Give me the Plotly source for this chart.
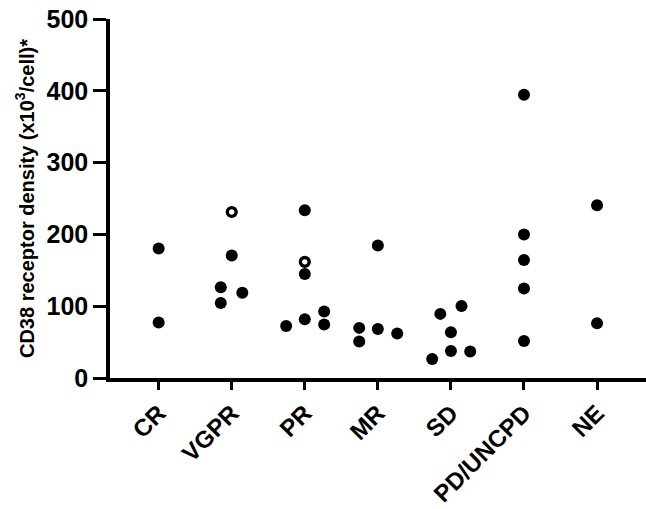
import plotly.graph_objects as go

categories = ["CR", "VGPR", "PR", "MR", "SD", "PD/UNCPD", "NE"]
y_ticks = [0, 100, 200, 300, 400, 500]

# filled points: category, value, horizontal jitter (category units)
filled_cat = ["CR", "CR",
              "VGPR", "VGPR", "VGPR", "VGPR",
              "PR", "PR", "PR", "PR", "PR", "PR",
              "MR", "MR", "MR", "MR", "MR",
              "SD", "SD", "SD", "SD", "SD", "SD",
              "PD/UNCPD", "PD/UNCPD", "PD/UNCPD", "PD/UNCPD", "PD/UNCPD",
              "NE", "NE"]
filled_val = [180.5, 77.3,
              170.7, 126.5, 104.6, 118.6,
              233.5, 144.7, 72.5, 81.9, 92.6, 74.5,
              184.7, 69.8, 50.8, 68.4, 61.9,
              100.4, 89.3, 63.8, 37.7, 36.8, 26.5,
              394.4, 200.0, 164.2, 124.7, 51.6,
              240.5, 76.3]
filled_jit = [0, 0,
              0, -0.15, -0.15, 0.145,
              0, 0, -0.255, 0, 0.265, 0.265,
              0, -0.255, -0.255, 0, 0.265,
              0.145, -0.145, 0, 0, 0.264, -0.256,
              0, 0, 0, 0, 0,
              0, 0]

# open points
open_cat = ["VGPR", "PR"]
open_val = [231.2, 161.8]
open_jit = [0, 0]

idx = {c: i for i, c in enumerate(categories)}
fx = [idx[c] + j for c, j in zip(filled_cat, filled_jit)]
ox = [idx[c] + j for c, j in zip(open_cat, open_jit)]

FONT = "Liberation Sans, Arial, sans-serif"

fig = go.Figure()
fig.add_trace(go.Scatter(
    x=fx, y=filled_val, mode="markers",
    marker=dict(size=12, color="black", line=dict(width=0)),
    cliponaxis=False, showlegend=False))
fig.add_trace(go.Scatter(
    x=ox, y=open_val, mode="markers",
    marker=dict(size=8.8, color="white", line=dict(width=3.4, color="black")),
    cliponaxis=False, showlegend=False))

fig.update_layout(
    width=646, height=509,
    margin=dict(l=110, r=0, t=19, b=131),
    paper_bgcolor="white", plot_bgcolor="white",
    font=dict(family=FONT, color="black"),
    xaxis=dict(
        range=[-0.666, 6.67], automargin=False,
        tickmode="array", tickvals=list(range(len(categories))), ticktext=categories,
        tickangle=-45,
        tickfont=dict(size=24, weight="bold", family=FONT),
        ticks="outside", ticklen=8, tickwidth=3, tickcolor="black",
        showline=True, linewidth=3.5, linecolor="black",
        showgrid=False, zeroline=False,
    ),
    yaxis=dict(
        range=[0, 500], automargin=False,
        tickmode="array", tickvals=y_ticks,
        tickfont=dict(size=25, weight="bold", family=FONT),
        ticks="outside", ticklen=13, tickwidth=3, tickcolor="black",
        showline=True, linewidth=3.5, linecolor="black",
        showgrid=False, zeroline=False,
        title=dict(text="CD38 receptor density (x10<sup>3</sup>/cell)*",
                   font=dict(size=20, weight="bold", family=FONT), standoff=8),
    ),
)

fig.write_html("out.html")
